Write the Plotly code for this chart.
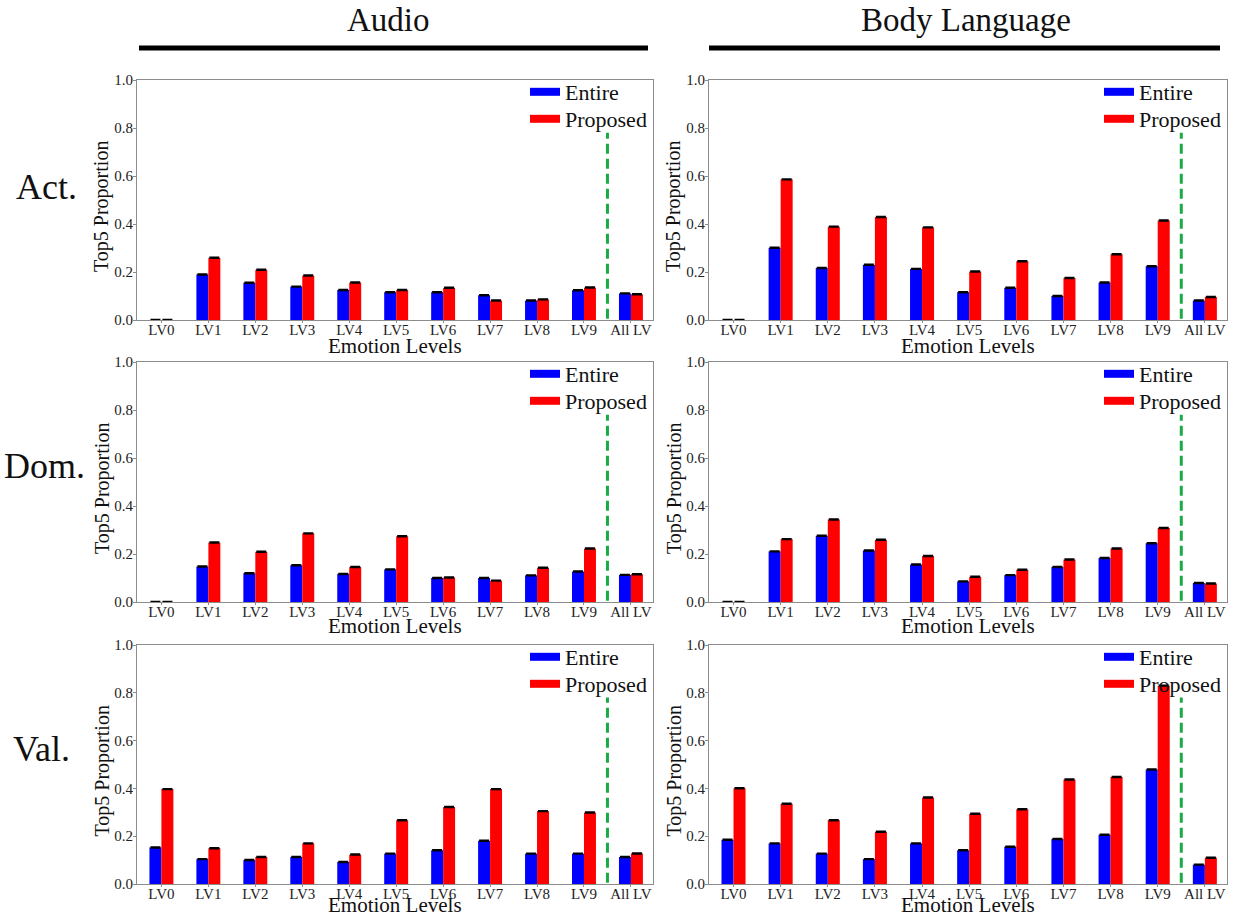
import plotly.graph_objects as go

categories = ["LV0", "LV1", "LV2", "LV3", "LV4", "LV5", "LV6", "LV7", "LV8", "LV9", "All LV"]

act_audio_entire   = [0.0, 0.190, 0.155, 0.139, 0.125, 0.116, 0.116, 0.103, 0.081, 0.124, 0.111]
act_audio_proposed = [0.0, 0.259, 0.209, 0.185, 0.156, 0.125, 0.134, 0.081, 0.086, 0.135, 0.107]
act_body_entire    = [0.0, 0.301, 0.217, 0.230, 0.213, 0.116, 0.134, 0.100, 0.156, 0.224, 0.081]
act_body_proposed  = [0.0, 0.586, 0.389, 0.429, 0.386, 0.202, 0.245, 0.175, 0.274, 0.415, 0.096]

dom_audio_entire   = [0.0, 0.148, 0.120, 0.153, 0.117, 0.136, 0.100, 0.100, 0.111, 0.127, 0.113]
dom_audio_proposed = [0.0, 0.248, 0.209, 0.286, 0.146, 0.274, 0.102, 0.089, 0.143, 0.223, 0.116]
dom_body_entire    = [0.0, 0.211, 0.276, 0.215, 0.156, 0.086, 0.112, 0.146, 0.183, 0.245, 0.079]
dom_body_proposed  = [0.0, 0.262, 0.344, 0.259, 0.192, 0.105, 0.134, 0.177, 0.223, 0.308, 0.077]

val_audio_entire   = [0.153, 0.104, 0.100, 0.113, 0.092, 0.127, 0.141, 0.181, 0.127, 0.127, 0.113]
val_audio_proposed = [0.397, 0.150, 0.113, 0.170, 0.123, 0.267, 0.322, 0.397, 0.305, 0.299, 0.128]
val_body_entire    = [0.185, 0.170, 0.127, 0.104, 0.170, 0.141, 0.156, 0.188, 0.206, 0.479, 0.081]
val_body_proposed  = [0.401, 0.336, 0.267, 0.219, 0.362, 0.294, 0.313, 0.437, 0.448, 0.830, 0.110]

column_titles = ["Audio", "Body Language"]
row_titles = ["Act.", "Dom.", "Val."]
series_names = ["Entire", "Proposed"]
x_title = "Emotion Levels"
y_title = "Top5 Proportion"
y_ticks = [0.0, 0.2, 0.4, 0.6, 0.8, 1.0]
divider_x = 9.5          # between LV9 and All LV
divider_y = [0.005, 0.78]

W, H = 1233, 917
FONT = "Liberation Serif, Times New Roman, serif"
BLUE, RED = "#0000ff", "#ff0000"
GREEN = "#1aab46"
AXIS_GREY = "#8c8c8c"
TXT = "#111111"

col_px = [(137, 653), (709, 1227)]
row_px = [(80, 320), (362, 602), (645, 884)]
xtitle_off = [26, 24, 21]

def px_x(p):
    return p / W

def px_y(p):
    return 1 - p / H

panels = [
    (0, 0, act_audio_entire, act_audio_proposed),
    (0, 1, act_body_entire, act_body_proposed),
    (1, 0, dom_audio_entire, dom_audio_proposed),
    (1, 1, dom_body_entire, dom_body_proposed),
    (2, 0, val_audio_entire, val_audio_proposed),
    (2, 1, val_body_entire, val_body_proposed),
]

fig = go.Figure()
shapes = []
annotations = []
layout_extra = {}
legend_count = 0

for i, (r, c, ent, prop) in enumerate(panels):
    n = i + 1
    xa = "x" if n == 1 else f"x{n}"
    ya = "y" if n == 1 else f"y{n}"
    x0, x1 = col_px[c]
    t, b = row_px[r]
    for k, (vals, color, name) in enumerate([(ent, BLUE, series_names[0]),
                                             (prop, RED, series_names[1])]):
        fig.add_trace(go.Bar(
            x=categories, y=vals, name=name, marker=dict(color=color, line=dict(width=0)),
            error_y=dict(type="constant", value=0.002, color="black", thickness=1.5, width=5),
            xaxis=xa, yaxis=ya, showlegend=False, offsetgroup=name,
        ))
        legend_count += 1
        lg = "legend" if legend_count == 1 else f"legend{legend_count}"
        fig.add_trace(go.Scatter(
            x=[None], y=[None], mode="lines", name=name,
            line=dict(color=color, width=8), xaxis=xa, yaxis=ya,
            legend=lg, showlegend=True,
        ))
        layout_extra[lg] = dict(
            x=px_x(x1 - 128), y=px_y(t + 12 + 27 * k), xanchor="left", yanchor="middle",
            bgcolor="rgba(0,0,0,0)", borderwidth=0,
            font=dict(family=FONT, size=22, color=TXT),
            itemwidth=30,
        )
    xkey = "xaxis" if n == 1 else f"xaxis{n}"
    ykey = "yaxis" if n == 1 else f"yaxis{n}"
    layout_extra[xkey] = dict(
        domain=[px_x(x0), px_x(x1)], anchor=ya, type="category",
        categoryorder="array", categoryarray=categories,
        range=[-0.52, 10.47], showline=True, mirror=True, linecolor=AXIS_GREY, linewidth=1,
        ticks="outside", ticklen=2, tickcolor=AXIS_GREY, showgrid=False, zeroline=False,
        tickfont=dict(family=FONT, size=15, color="#222"), ticklabelstandoff=-6,
        automargin=False,
    )
    layout_extra[ykey] = dict(
        domain=[px_y(b), px_y(t)], anchor=xa, range=[0, 1], tickvals=y_ticks, tickformat=".1f",
        showline=True, mirror=True, linecolor=AXIS_GREY, linewidth=1,
        ticks="outside", ticklen=3, tickcolor=AXIS_GREY, showgrid=False, zeroline=False,
        tickfont=dict(family=FONT, size=15, color="#222"), ticklabelstandoff=-3,
        automargin=False,
    )
    # axis titles
    annotations.append(dict(
        text=x_title, x=px_x((x0 + x1) / 2), y=px_y(b + xtitle_off[r]),
        xref="paper", yref="paper", xanchor="center", yanchor="middle", showarrow=False,
        font=dict(family=FONT, size=21, color=TXT),
    ))
    annotations.append(dict(
        text=y_title, x=px_x(x0 - 35), y=px_y((t + b) / 2 + 7), textangle=-90,
        xref="paper", yref="paper", xanchor="center", yanchor="middle", showarrow=False,
        font=dict(family=FONT, size=20, color=TXT),
    ))
    shapes.append(dict(
        type="line", xref=xa, yref=ya, x0=divider_x, x1=divider_x,
        y0=divider_y[0], y1=divider_y[1],
        line=dict(color=GREEN, width=3, dash="10px,5px"),
    ))

# column headers with underline
col_centers = [388, 966]
col_lines = [(139, 648), (709, 1220)]
for txt, cx, (l0, l1) in zip(column_titles, col_centers, col_lines):
    annotations.append(dict(
        text=txt, x=px_x(cx), y=px_y(20), xref="paper", yref="paper",
        xanchor="center", yanchor="middle", showarrow=False,
        font=dict(family=FONT, size=33, color=TXT),
    ))
    shapes.append(dict(
        type="line", xref="paper", yref="paper", x0=px_x(l0), x1=px_x(l1),
        y0=px_y(48), y1=px_y(48), line=dict(color="black", width=5),
    ))

row_centers = [(46, 187), (45, 466), (41, 749)]
for txt, (cx, cy) in zip(row_titles, row_centers):
    annotations.append(dict(
        text=txt, x=px_x(cx), y=px_y(cy), xref="paper", yref="paper",
        xanchor="center", yanchor="middle", showarrow=False,
        font=dict(family=FONT, size=36, color=TXT),
    ))

fig.update_layout(
    width=W, height=H, margin=dict(l=0, r=0, t=0, b=0, autoexpand=False),
    paper_bgcolor="white", plot_bgcolor="white",
    barmode="group", bargap=0.49, bargroupgap=0,
    shapes=shapes, annotations=annotations,
    font=dict(family=FONT),
    **layout_extra,
)

fig.write_html("out.html", config={"displayModeBar": False},
               post_script="document.body.style.margin='0';")
